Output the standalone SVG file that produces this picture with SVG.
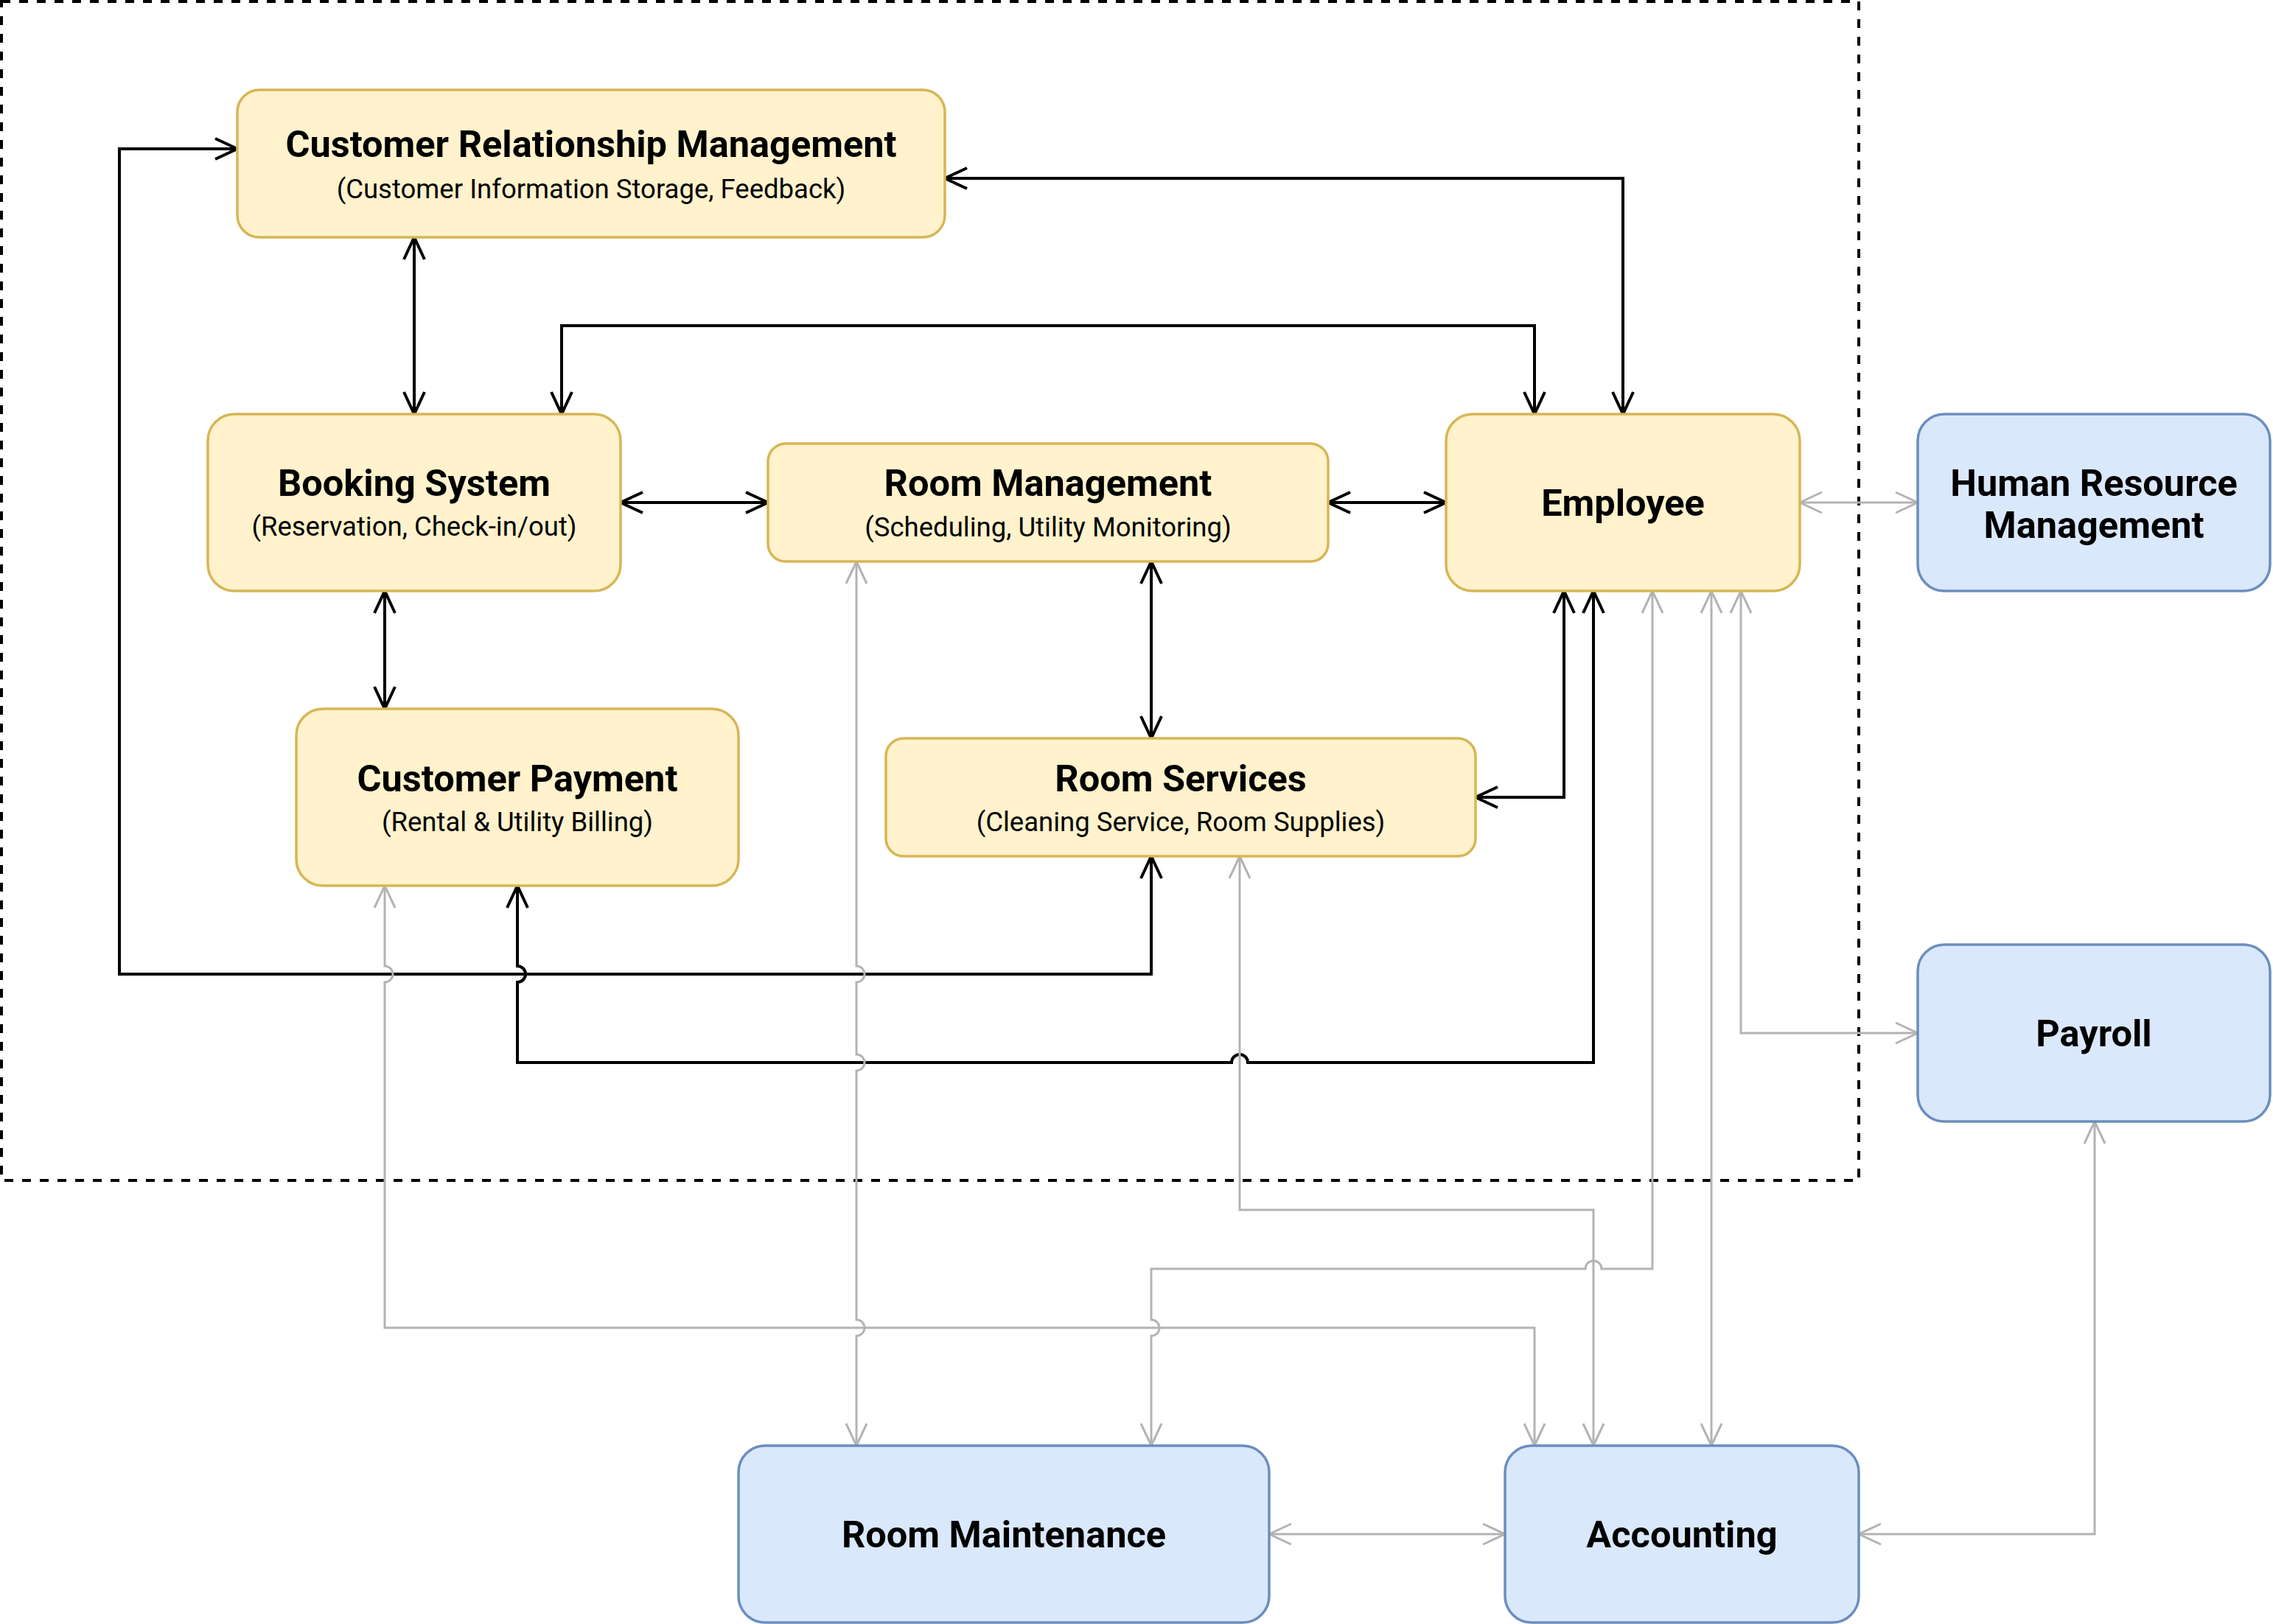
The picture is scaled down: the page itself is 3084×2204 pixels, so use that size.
<svg xmlns="http://www.w3.org/2000/svg" width="3084" height="2204" viewBox="0 0 3084 2204">
<style>
.y{fill:#fff2cc;stroke:#d6b656;stroke-width:3.5}
.b{fill:#dae8fc;stroke:#6c8ebf;stroke-width:3.5}
.t{font-family:Roboto,"Liberation Sans",sans-serif;font-weight:bold;font-size:50.5px;fill:#000;text-anchor:middle;dominant-baseline:central}
.s{font-family:Roboto,"Liberation Sans",sans-serif;font-size:36.5px;fill:#000;text-anchor:middle;dominant-baseline:central}
.k{fill:none;stroke:#000;stroke-width:4;marker-start:url(#ak);marker-end:url(#ak)}
.g{fill:none;stroke:#b3b3b3;stroke-width:3;marker-start:url(#ag);marker-end:url(#ag)}
</style>
<defs>
<marker id="ak" markerUnits="userSpaceOnUse" orient="auto-start-reverse" overflow="visible" refX="0" refY="0" markerWidth="1" markerHeight="1">
<path d="M -30 -14 L 0 0 L -30 14" fill="none" stroke="#000" stroke-width="4"/>
</marker>
<marker id="ag" markerUnits="userSpaceOnUse" orient="auto-start-reverse" overflow="visible" refX="0" refY="0" markerWidth="1" markerHeight="1">
<path d="M -30 -14 L 0 0 L -30 14" fill="none" stroke="#b3b3b3" stroke-width="3"/>
</marker>
</defs>
<rect width="3084" height="2204" fill="#fff"/>
<rect id="container" x="2" y="2" width="2520" height="1600" fill="none" stroke="#000" stroke-width="4" stroke-dasharray="12 12"/>
<g id="connectors">
<path class="k" d="M 562 322 V 562"/>
<path class="k" d="M 762 562 V 442 H 2082 V 562"/>
<path class="k" d="M 1282 242 H 2202 V 562"/>
<path class="k" d="M 842 682 H 1042"/>
<path class="k" d="M 1802 682 H 1962"/>
<path class="k" d="M 522 802 V 962"/>
<path class="k" d="M 1562 762 V 1002"/>
<path class="k" d="M 2122 802 V 1082 H 2002"/>
<path class="k" d="M 1562 1162 V 1322 H 162 V 202 H 322"/>
<path class="k" d="M 702 1202 V 1311 A 11 11 0 0 1 702 1333 V 1442 H 1671 A 11 11 0 0 1 1693 1442 H 2162 V 802"/>
<path class="g" d="M 2442 682 H 2602"/>
<path class="g" d="M 2362 802 V 1402 H 2602"/>
<path class="g" d="M 2322 802 V 1962"/>
<path class="g" d="M 2242 802 V 1722 H 2173 A 11 11 0 0 0 2151 1722 H 1562 V 1791 A 11 11 0 0 1 1562 1813 V 1962"/>
<path class="g" d="M 1682 1162 V 1642 H 2162 V 1962"/>
<path class="g" d="M 1162 762 V 1311 A 11 11 0 0 1 1162 1333 V 1431 A 11 11 0 0 1 1162 1453 V 1791 A 11 11 0 0 1 1162 1813 V 1962"/>
<path class="g" d="M 522 1202 V 1311 A 11 11 0 0 1 522 1333 V 1802 H 2082 V 1962"/>
<path class="g" d="M 1722 2082 H 2042"/>
<path class="g" d="M 2842 1522 V 2082 H 2522"/>
</g>
<g id="crm">
<rect class="y" x="322" y="122" width="960" height="200" rx="30"/>
<text class="t" x="802" y="195">Customer Relationship Management</text>
<text class="s" x="802" y="256">(Customer Information Storage, Feedback)</text>
</g>
<g id="booking">
<rect class="y" x="282" y="562" width="560" height="240" rx="36"/>
<text class="t" x="562" y="655">Booking System</text>
<text class="s" x="562" y="714">(Reservation, Check-in/out)</text>
</g>
<g id="room-management">
<rect class="y" x="1042" y="602" width="760" height="160" rx="24"/>
<text class="t" x="1422" y="655">Room Management</text>
<text class="s" x="1422" y="715">(Scheduling, Utility Monitoring)</text>
</g>
<g id="employee">
<rect class="y" x="1962" y="562" width="480" height="240" rx="36"/>
<text class="t" x="2202" y="682">Employee</text>
</g>
<g id="hrm">
<rect class="b" x="2602" y="562" width="478" height="240" rx="36"/>
<text class="t" x="2841" y="655">Human Resource</text>
<text class="t" x="2841" y="712">Management</text>
</g>
<g id="customer-payment">
<rect class="y" x="402" y="962" width="600" height="240" rx="36"/>
<text class="t" x="702" y="1056">Customer Payment</text>
<text class="s" x="702" y="1115">(Rental &amp; Utility Billing)</text>
</g>
<g id="room-services">
<rect class="y" x="1202" y="1002" width="800" height="160" rx="24"/>
<text class="t" x="1602" y="1056">Room Services</text>
<text class="s" x="1602" y="1115">(Cleaning Service, Room Supplies)</text>
</g>
<g id="payroll">
<rect class="b" x="2602" y="1282" width="478" height="240" rx="36"/>
<text class="t" x="2841" y="1402">Payroll</text>
</g>
<g id="room-maintenance">
<rect class="b" x="1002" y="1962" width="720" height="240" rx="36"/>
<text class="t" x="1362" y="2082">Room Maintenance</text>
</g>
<g id="accounting">
<rect class="b" x="2042" y="1962" width="480" height="240" rx="36"/>
<text class="t" x="2282" y="2082">Accounting</text>
</g>
</svg>
